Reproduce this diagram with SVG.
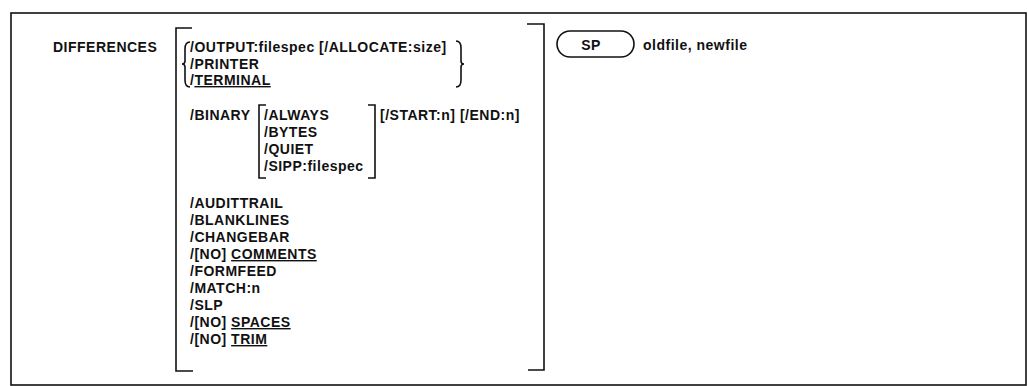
<svg xmlns="http://www.w3.org/2000/svg" width="1028" height="386" viewBox="0 0 1028 386">
<style>
text{font-family:"Liberation Sans",Arial,sans-serif;font-weight:bold;font-size:14px;letter-spacing:0.5px;fill:#111}
.ln{fill:none;stroke:#111;stroke-width:1.6}
.u{text-decoration:underline}
</style>
<rect width="1028" height="386" fill="#fff"/>
<rect class="ln" x="11" y="13" width="1015" height="372"/>
<g id="cmd"><text x="53" y="52">DIFFERENCES</text></g>
<g id="brackets">
<path class="ln" d="M192,28 H176 V371 H193"/>
<path class="ln" d="M527,24 H544 V370 H528"/>
<path class="ln" d="M190,42 Q185,42 185,49 V61 Q185,64 182,64 Q185,64 185,67 V80 Q185,87 190,87"/>
<path class="ln" d="M456,41 Q461,41 461,48 V61 Q461,64 464,64 Q461,64 461,67 V80 Q461,87 456,87"/>
<path class="ln" d="M266,105 H259 V178 H266"/>
<path class="ln" d="M368,105 H375 V178 H368"/>
</g>
<g id="output-group">
<text x="190" y="52">/OUTPUT:filespec [/ALLOCATE:size]</text>
<text x="190" y="68.5">/PRINTER</text>
<text x="190" y="85">/<tspan class="u">TERMINAL</tspan></text>
</g>
<g id="binary-group">
<text x="190" y="120">/BINARY</text>
<text x="264" y="120">/ALWAYS</text>
<text x="264" y="137">/BYTES</text>
<text x="264" y="154">/QUIET</text>
<text x="264" y="171">/SIPP:filespec</text>
<text x="380" y="120">[/START:n] [/END:n]</text>
</g>
<g id="options">
<text x="190" y="208">/AUDITTRAIL</text>
<text x="190" y="225">/BLANKLINES</text>
<text x="190" y="242">/CHANGEBAR</text>
<text x="190" y="259">/[NO] <tspan class="u">COMMENTS</tspan></text>
<text x="190" y="276">/FORMFEED</text>
<text x="190" y="293">/MATCH:n</text>
<text x="190" y="310">/SLP</text>
<text x="190" y="327">/[NO] <tspan class="u">SPACES</tspan></text>
<text x="190" y="344">/[NO] <tspan class="u">TRIM</tspan></text>
</g>
<g id="sp">
<rect class="ln" x="557" y="31" width="77" height="26" rx="13"/>
<text x="591" y="50" text-anchor="middle">SP</text>
</g>
<g id="files"><text x="643" y="50">oldfile, newfile</text></g>
</svg>
